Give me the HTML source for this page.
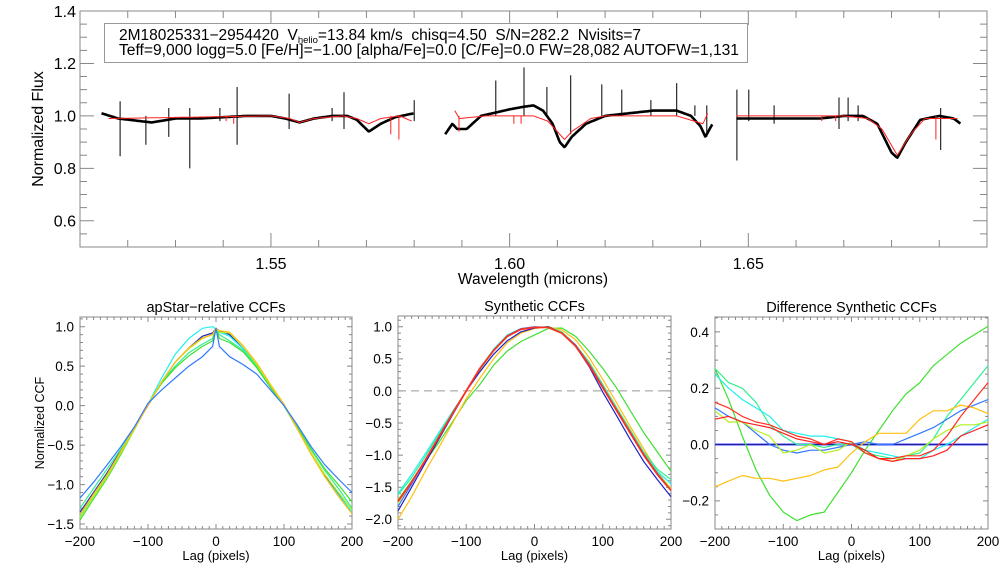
<!DOCTYPE html>
<html><head><meta charset="utf-8"><style>
html,body{margin:0;padding:0;background:#fff;}
svg{display:block;font-family:"Liberation Sans",sans-serif;}
</style></head><body>
<svg id="chart" width="1008" height="576" viewBox="0 0 1008 576" xmlns="http://www.w3.org/2000/svg">
<rect width="1008" height="576" fill="#fff"/>
<g id="top"></g>
<g id="p1"></g>
<g id="p2"></g>
<g id="p3"></g>
<g>
<rect x="104.5" y="23.5" width="643" height="39" fill="#fff" stroke="#999" stroke-width="1"/>
<text x="119" y="40" font-size="15.5" fill="#000" style="white-space:pre">2M18025331−2954420  V<tspan font-size="9.5" dy="3">helio</tspan><tspan dy="-3">=13.84 km/s  chisq=4.50  S/N=282.2  Nvisits=7</tspan></text>
<text x="119" y="55" font-size="15.5" fill="#000" textLength="620" lengthAdjust="spacingAndGlyphs">Teff=9,000 logg=5.0 [Fe/H]=−1.00 [alpha/Fe]=0.0 [C/Fe]=0.0 FW=28,082 AUTOFW=1,131</text>
</g>
</svg>
<script>
// ---------- Spectrum data ----------
const obsSeg1 = [[1.5145,1.01],[1.518,0.99],[1.525,0.975],[1.530,0.99],[1.535,0.99],[1.540,0.995],[1.545,1.0],[1.550,1.0],[1.553,0.99],[1.556,0.975],[1.559,0.99],[1.563,1.0],[1.566,1.0],[1.568,0.985],[1.5705,0.94],[1.573,0.97],[1.576,0.995],[1.580,1.01]];
const obsSeg2 = [[1.5865,0.93],[1.588,0.97],[1.589,0.95],[1.591,0.95],[1.594,1.0],[1.600,1.025],[1.603,1.035],[1.605,1.04],[1.607,1.02],[1.609,0.97],[1.6105,0.9],[1.6115,0.88],[1.613,0.92],[1.616,0.97],[1.620,1.0],[1.625,1.01],[1.630,1.02],[1.635,1.02],[1.638,1.0],[1.640,0.96],[1.641,0.92],[1.6425,0.97]];
const obsSeg3 = [[1.6475,0.99],[1.655,0.99],[1.665,0.99],[1.670,1.0],[1.674,1.0],[1.677,0.97],[1.680,0.86],[1.6812,0.84],[1.683,0.9],[1.686,0.985],[1.690,1.0],[1.693,0.99],[1.6945,0.97]];
const modSeg1 = [[1.516,0.99],[1.550,1.0],[1.554,0.99],[1.556,0.975],[1.559,0.99],[1.565,1.0],[1.568,0.99],[1.5705,0.97],[1.573,0.99],[1.577,1.0],[1.5795,0.98]];
const modSeg2 = [[1.5885,1.02],[1.5895,0.99],[1.595,1.0],[1.605,1.0],[1.608,0.98],[1.6105,0.93],[1.6115,0.91],[1.613,0.94],[1.617,0.99],[1.620,1.0],[1.635,1.0],[1.6405,0.97],[1.6415,1.01]];
const modSeg3 = [[1.6475,1.0],[1.670,1.0],[1.675,0.99],[1.678,0.95],[1.6812,0.85],[1.684,0.93],[1.687,0.99],[1.694,0.99]];
const obsSpikeWl = [1.5184,1.5238,1.5286,1.5330,1.5393,1.5429,1.5538,1.5628,1.5653,1.5800,1.5971,1.6030,1.6078,1.6128,1.6193,1.6235,1.6296,1.6350,1.6388,1.6413,1.6476,1.6501,1.6554,1.6690,1.6709,1.6730,1.6903];
const obsSpikeHi = [1.056,1.0,1.03,1.03,1.03,1.11,1.085,1.03,1.09,1.06,1.135,1.185,1.11,1.155,1.12,1.10,1.06,1.125,1.04,1.04,1.10,1.10,1.04,1.07,1.07,1.04,1.03];
const obsSpikeLo = [0.846,0.89,0.92,0.80,0.98,0.89,0.95,0.98,0.95,0.98,1.0,1.0,1.0,0.93,1.0,1.0,1.0,1.0,1.0,0.92,0.83,0.98,0.97,0.95,0.98,0.98,0.87];
const modSpikeWl = [1.5406,1.5422,1.5751,1.5768,1.5894,1.6009,1.6024,1.6654,1.6683,1.6893];
const modSpikeLo = [0.98,0.97,0.93,0.91,0.94,0.97,0.97,0.98,0.98,0.91];

// ---------- CCF data ----------
const lag1 = [-200,-180,-160,-140,-120,-100,-80,-60,-40,-20,-5,0,5,20,40,60,80,100,120,140,160,180,200];
const p1Blue  = [-1.17,-0.97,-0.75,-0.52,-0.27,0.03,0.2,0.35,0.5,0.62,0.75,0.98,0.75,0.62,0.52,0.4,0.2,0.0,-0.25,-0.52,-0.75,-0.93,-1.1];
const p1Dark  = [-1.35,-1.1,-0.85,-0.57,-0.28,0.0,0.3,0.55,0.73,0.88,0.92,0.98,0.95,0.9,0.72,0.5,0.25,0.0,-0.3,-0.6,-0.88,-1.12,-1.36];
const p1Cyan  = [-1.4,-1.15,-0.88,-0.6,-0.3,0.02,0.35,0.65,0.85,0.98,1.0,0.97,0.93,0.88,0.72,0.5,0.25,0.0,-0.3,-0.6,-0.9,-1.13,-1.35];
const p1Spring= [-1.3,-1.05,-0.8,-0.55,-0.28,0.02,0.3,0.5,0.67,0.78,0.85,0.98,0.9,0.82,0.7,0.5,0.24,0.0,-0.28,-0.56,-0.82,-1.05,-1.3];
const p1Green = [-1.45,-1.18,-0.92,-0.62,-0.3,0.02,0.28,0.48,0.63,0.75,0.82,0.98,0.85,0.8,0.68,0.48,0.23,0.0,-0.28,-0.55,-0.8,-1.0,-1.22];
const p1YGreen= [-1.42,-1.15,-0.9,-0.6,-0.3,0.02,0.3,0.55,0.72,0.85,0.9,0.98,0.93,0.92,0.75,0.52,0.26,0.0,-0.3,-0.6,-0.87,-1.1,-1.32];
const p1Orange= [-1.38,-1.12,-0.87,-0.58,-0.29,0.0,0.3,0.55,0.73,0.86,0.9,0.98,0.95,0.93,0.76,0.54,0.27,0.02,-0.3,-0.62,-0.9,-1.15,-1.37];

const lag2 = [-200,-180,-160,-140,-120,-100,-80,-60,-40,-20,0,20,40,60,80,100,120,140,160,180,200];
const p2Dark  = [-1.87,-1.5,-1.12,-0.75,-0.37,0.0,0.3,0.57,0.78,0.92,0.98,1.0,0.9,0.7,0.38,-0.02,-0.38,-0.75,-1.1,-1.38,-1.65];
const p2Red   = [-1.72,-1.42,-1.08,-0.72,-0.35,0.0,0.35,0.63,0.85,0.96,0.99,0.99,0.9,0.7,0.4,0.05,-0.3,-0.65,-1.0,-1.3,-1.55];
const p2Cyan  = [-1.6,-1.3,-0.98,-0.65,-0.32,0.0,0.35,0.65,0.87,0.97,0.99,0.99,0.9,0.7,0.42,0.07,-0.28,-0.62,-0.98,-1.25,-1.45];
const p2Spring= [-1.62,-1.35,-1.02,-0.68,-0.33,0.0,0.33,0.62,0.84,0.96,0.99,1.0,0.92,0.72,0.45,0.1,-0.25,-0.6,-0.95,-1.22,-1.38];
const p2Green = [-1.7,-1.4,-1.1,-0.8,-0.48,-0.15,0.1,0.4,0.62,0.77,0.87,0.97,0.98,0.85,0.62,0.35,0.05,-0.3,-0.65,-0.95,-1.25];
const p2Orange= [-2.0,-1.65,-1.25,-0.88,-0.5,-0.12,0.2,0.5,0.75,0.9,0.97,1.0,0.95,0.8,0.52,0.18,-0.18,-0.55,-0.9,-1.25,-1.55];
const p2Blue  = [-1.8,-1.45,-1.08,-0.72,-0.35,0.0,0.34,0.63,0.86,0.97,1.0,0.99,0.9,0.72,0.42,0.07,-0.28,-0.63,-0.98,-1.28,-1.55];
const p2YGreen= [-1.75,-1.42,-1.08,-0.72,-0.36,0.0,0.33,0.62,0.85,0.96,0.99,0.99,0.9,0.72,0.43,0.08,-0.27,-0.62,-0.97,-1.27,-1.52];

const p3Green = [0.27,0.16,0.03,-0.09,-0.18,-0.24,-0.27,-0.25,-0.24,-0.17,-0.1,-0.02,0.05,0.12,0.18,0.22,0.28,0.32,0.36,0.39,0.42];
const p3Spring= [0.27,0.22,0.2,0.15,0.07,0.03,0.0,0.0,-0.01,0.0,0.0,-0.03,-0.04,-0.05,-0.04,-0.03,0.02,0.1,0.16,0.22,0.28];
const p3Cyan  = [0.25,0.2,0.16,0.13,0.1,0.05,0.04,0.03,0.03,0.02,0.01,-0.02,-0.03,-0.04,-0.05,-0.05,-0.02,0.0,0.03,0.06,0.09];
const p3Blue  = [0.13,0.1,0.08,0.04,0.0,-0.02,-0.03,-0.02,-0.02,-0.01,0.0,0.01,0.0,0.0,0.02,0.04,0.06,0.09,0.12,0.14,0.16];
const p3Red1  = [0.15,0.13,0.1,0.08,0.07,0.05,0.03,0.02,0.0,0.02,0.01,-0.03,-0.05,-0.05,-0.04,-0.04,-0.02,0.03,0.1,0.16,0.22];
const p3Red2  = [0.09,0.1,0.08,0.07,0.06,0.04,0.02,0.01,0.0,0.01,0.0,-0.02,-0.05,-0.06,-0.05,-0.05,-0.04,-0.02,0.03,0.05,0.07];
const p3YGreen= [0.12,0.08,0.08,0.05,0.03,-0.03,-0.02,0.0,-0.03,-0.02,0.01,-0.03,-0.05,-0.06,-0.04,-0.02,0.02,0.05,0.07,0.07,0.08];
const p3Orange= [-0.15,-0.13,-0.11,-0.12,-0.12,-0.13,-0.12,-0.11,-0.09,-0.08,-0.03,0.01,0.04,0.04,0.04,0.09,0.12,0.12,0.14,0.13,0.11];
const p3Dark  = [0,0,0,0,0,0,0,0,0,0,0,0,0,0,0,0,0,0,0,0,0];

const topYTicks = [0.6,0.8,1.0,1.2,1.4];
const topXTicks = [1.55,1.60,1.65];
const p1YTicks = [-1.5,-1.0,-0.5,0.0,0.5,1.0];
const p2YTicks = [-2.0,-1.5,-1.0,-0.5,0.0,0.5,1.0];
const p3YTicks = [-0.2,0.0,0.2,0.4];
const lagTicks = [-200,-100,0,100,200];

const NS='http://www.w3.org/2000/svg';
function mk(parent,tag,attrs,text){const e=document.createElementNS(NS,tag);for(const k in attrs)e.setAttribute(k,attrs[k]);if(text!==undefined)e.textContent=text;parent.appendChild(e);return e;}
function fmt(v,d){return v.toFixed(d).replace('-','−');}

function axes(g,box,xr,yr,xMaj,xMin,yMaj,yMin,lenMaj,lenMin){
  const [L,T,R,B]=box;
  const sx=v=>L+(v-xr[0])/(xr[1]-xr[0])*(R-L);
  const sy=v=>B-(v-yr[0])/(yr[1]-yr[0])*(B-T);
  const fr=mk(g,'rect',{x:L,y:T,width:R-L,height:B-T,fill:'none',stroke:'#888','stroke-width':1});
  
  
  let d='';
  for(let v=Math.ceil(xr[0]/xMin-1e-6)*xMin;v<=xr[1]+1e-9;v+=xMin){
    const isM=Math.abs(v/xMaj-Math.round(v/xMaj))<1e-6;const l=isM?lenMaj:lenMin;const x=sx(v);
    d+=`M${x},${B}V${B-l}M${x},${T}V${T+l}`;}
  for(let v=Math.ceil(yr[0]/yMin-1e-6)*yMin;v<=yr[1]+1e-9;v+=yMin){
    const isM=Math.abs(v/yMaj-Math.round(v/yMaj))<1e-6;const l=isM?lenMaj:lenMin;const y=sy(v);
    d+=`M${L},${y}H${L+l}M${R},${y}H${R-l}`;}
  const tk=mk(g,'path',{d:d,stroke:'#888','stroke-width':1,fill:'none'});
  
  
  return {sx,sy};
}
function ytickLabels(g,vals,sy,x,d,fs){vals.forEach(v=>{const t=mk(g,'text',{x:x,y:sy(v)+fs*0.36,'font-size':fs,'text-anchor':'end'},fmt(v,d));
  
  });}
function xtickLabels(g,vals,sx,y,d,fs){vals.forEach(v=>{const t=mk(g,'text',{x:sx(v),y:y,'font-size':fs,'text-anchor':'middle'},fmt(v,d));
  
  });}
function interp(knots,w){if(w<=knots[0][0])return knots[0][1];for(let i=1;i<knots.length;i++){if(w<=knots[i][0]){const a=knots[i-1],b=knots[i];return a[1]+(b[1]-a[1])*(w-a[0])/(b[0]-a[0]);}}return knots[knots.length-1][1];}

// ---------- Top panel ----------
(function(){
  const g=document.getElementById('top');
  const {sx,sy}=axes(g,[80,11,987,247],[1.51,1.70],[0.5,1.4],0.05,0.01,0.2,0.05,14,7);
  ytickLabels(g,topYTicks,sy,76,1,16);
  xtickLabels(g,topXTicks,sx,269,2,16);
  let t=mk(g,'text',{x:533,y:284,'font-size':15.5,'text-anchor':'middle'},'Wavelength (microns)');
  
  
  t=mk(g,'text',{x:0,y:0,'font-size':16,'text-anchor':'middle',transform:'translate(43,129) rotate(-90)'},'Normalized Flux');
  
  
  function seg(knots,color,w,name){
    const w0=knots[0][0],w1=knots[knots.length-1][0];let d='';
    const pxPerWl=(sx(1.6)-sx(1.55))/0.05;
    for(let x=sx(w0);x<=sx(w1);x+=1){const wl=w0+(x-sx(w0))/pxPerWl;d+=(d?'L':'M')+x.toFixed(1)+','+sy(interp(knots,wl)).toFixed(1);}
    const p=mk(g,'path',{d:d,stroke:color,'stroke-width':w,fill:'none','stroke-linejoin':'round'});
    
    
  }
  [obsSeg1,obsSeg2,obsSeg3].forEach(k=>seg(k,'#000',2.6,'observed-spectrum'));
  let d='';obsSpikeWl.forEach((w,i)=>{const x=sx(w).toFixed(1);d+=`M${x},${sy(obsSpikeHi[i])}V${sy(obsSpikeLo[i])}`;});
  let p=mk(g,'path',{d:d,stroke:'#000','stroke-width':1,fill:'none'});
  
  
  [modSeg1,modSeg2,modSeg3].forEach(k=>seg(k,'#ff2020',1,'model-spectrum'));
  d='';modSpikeWl.forEach((w,i)=>{const x=sx(w).toFixed(1);d+=`M${x},${sy(1.0)}V${sy(modSpikeLo[i])}`;});
  p=mk(g,'path',{d:d,stroke:'#ff2020','stroke-width':1,fill:'none'});
  
  
})();

// ---------- CCF panels ----------
function ccfPanel(id,box,yr,yTicks,yMin,title,series,lags,dashZero){
  const g=document.getElementById(id);
  const {sx,sy}=axes(g,box,[-200,200],yr,100,10,(yTicks[1]-yTicks[0]),yMin,5,3);
  ytickLabels(g,yTicks,sy,box[0]-6,1,13.5);
  xtickLabels(g,lagTicks,sx,box[3]+17,0,13.5);
  let t=mk(g,'text',{x:(box[0]+box[2])/2,y:box[1]-5,'font-size':14.5,'text-anchor':'middle'},title);
  
  
  t=mk(g,'text',{x:(box[0]+box[2])/2,y:box[3]+31,'font-size':13,'text-anchor':'middle'},'Lag (pixels)');
  
  
  if(dashZero){const l=mk(g,'line',{x1:box[0],x2:box[2],y1:sy(0),y2:sy(0),stroke:'#999','stroke-dasharray':'8,5','stroke-width':1});
    
    }
  series.forEach(s=>{
    const d=s.v.map((v,i)=>(i?'L':'M')+sx(lags[i]).toFixed(1)+','+sy(v).toFixed(1)).join('');
    const p=mk(g,'path',{d:d,stroke:s.c,'stroke-width':s.w||1.2,fill:'none','stroke-linejoin':'round'});
    
    
  });
  return g;
}
const g1=ccfPanel('p1',[80,317,352,529],[-1.563,1.123],p1YTicks,0.1,'apStar−relative CCFs',[
 {v:p1Dark,c:'#2020c8'},{v:p1Cyan,c:'#20f0f0'},{v:p1Spring,c:'#30f090'},{v:p1Green,c:'#40e030'},{v:p1YGreen,c:'#b0f020'},{v:p1Orange,c:'#ffc010'},{v:p1Blue,c:'#3078ff'}],lag1,false);
let yt=mk(g1,'text',{x:0,y:0,'font-size':12.5,'text-anchor':'middle',transform:'translate(44,423) rotate(-90)'},'Normalized CCF');


ccfPanel('p2',[398,316,671,529],[-2.151,1.167],p2YTicks,0.1,'Synthetic CCFs',[
 {v:p2Green,c:'#40e030'},{v:p2Orange,c:'#ffc010'},{v:p2Cyan,c:'#20f0f0'},{v:p2Spring,c:'#30f090'},{v:p2YGreen,c:'#b0f020'},{v:p2Blue,c:'#3078ff'},{v:p2Dark,c:'#2020c8'},{v:p2Red,c:'#ff3020',w:1.8}],lag2,true);
ccfPanel('p3',[715,317,988,529],[-0.30,0.453],p3YTicks,0.05,'Difference Synthetic CCFs',[
 {v:p3Dark,c:'#8080ff',w:2.5},{v:p3Dark,c:'#2020a0',w:1},{v:p3Green,c:'#40e030'},{v:p3Spring,c:'#30f090'},{v:p3Cyan,c:'#20f0f0'},{v:p3Blue,c:'#3078ff'},{v:p3YGreen,c:'#b0f020'},{v:p3Orange,c:'#ffc010'},{v:p3Red1,c:'#ff3020'},{v:p3Red2,c:'#ff2020'}],lag2,false);
</script>
</body></html>
